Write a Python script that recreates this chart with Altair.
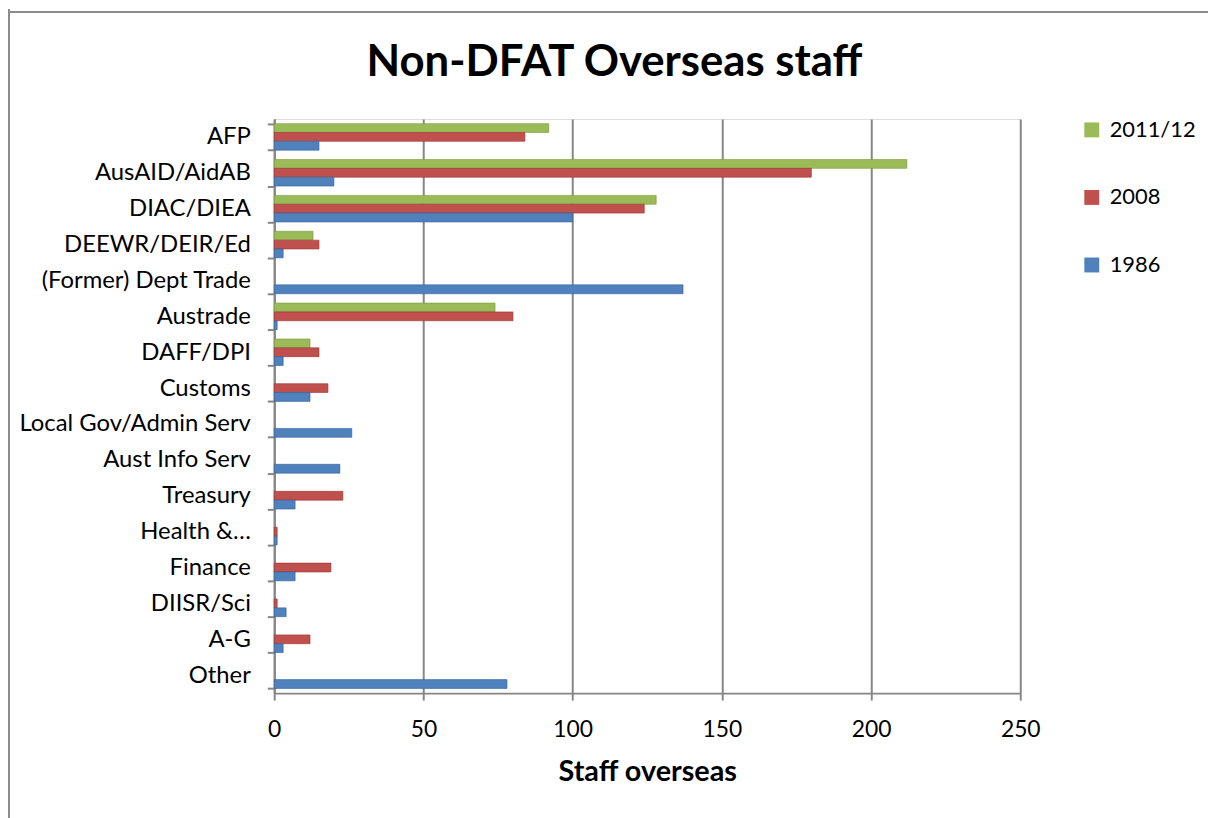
import altair as alt
import pandas as pd

categories = ["AFP", "AusAID/AidAB", "DIAC/DIEA", "DEEWR/DEIR/Ed", "(Former) Dept Trade",
              "Austrade", "DAFF/DPI", "Customs", "Local Gov/Admin Serv", "Aust Info Serv",
              "Treasury", "Health &…", "Finance", "DIISR/Sci", "A-G", "Other"]
series = ["2011/12", "2008", "1986"]
v2011 = [92, 212, 128, 13, 0, 74, 12, 0, 0, 0, 0, 0, 0, 0, 0, 0]
v2008 = [84, 180, 124, 15, 0, 80, 15, 18, 0, 0, 23, 1, 19, 1, 12, 0]
v1986 = [15, 20, 100, 3, 137, 1, 3, 12, 26, 22, 7, 1, 7, 4, 3, 78]
colors = ["#9BBB59", "#C0504D", "#4F81BD"]
edge_colors = ["#7a9a3a", "#9a3330", "#34609a"]
x_ticks = [0, 50, 100, 150, 200, 250]

rows = []
for s, vals in zip(series, [v2011, v2008, v1986]):
    for c, v in zip(categories, vals):
        rows.append({"Agency": c, "Series": s, "Staff": v})
df = pd.DataFrame(rows)

FONT = "Lato"
W, H = 751, 578
PAD_L, PAD_T = 268, 109

bars = alt.Chart(df).transform_filter("datum.Staff > 0").mark_bar(strokeWidth=0.6).encode(
    x=alt.X("Staff:Q", scale=alt.Scale(domain=[0, 250], nice=False),
            axis=alt.Axis(values=x_ticks, title="Staff overseas", grid=True,
                          gridColor="#868686", gridWidth=2, domainColor="#868686",
                          domainWidth=2, tickColor="#868686", tickWidth=2, tickSize=7,
                          labelFontSize=23, labelFont=FONT, labelColor="#000",
                          labelFlush=False, labelPadding=19, titleFontSize=29,
                          titleFont=FONT, titleFontWeight="bold", titleColor="#000",
                          titlePadding=16)),
    y=alt.Y("Agency:N", sort=categories,
            scale=alt.Scale(domain=categories, paddingInner=0.26, paddingOuter=0.13),
            axis=alt.Axis(title=None, tickBand="extent", domainColor="#868686",
                          domainWidth=2, tickColor="#868686", tickWidth=2, tickSize=7,
                          labelFontSize=24, labelFont=FONT, labelColor="#000",
                          labelPadding=17, labelLimit=400)),
    yOffset=alt.YOffset("Series:N", sort=series, scale=alt.Scale(domain=series)),
    color=alt.Color("Series:N", sort=series,
                    scale=alt.Scale(domain=series, range=colors),
                    legend=alt.Legend(title=None, orient="none", legendX=812, legendY=0,
                                      symbolType="square", symbolSize=225,
                                      symbolStrokeWidth=0, labelFontSize=22,
                                      labelFont=FONT, labelColor="#000",
                                      labelOffset=7, rowPadding=46)),
    stroke=alt.Stroke("Series:N", sort=series,
                      scale=alt.Scale(domain=series, range=edge_colors),
                      legend=None),
)

frame_left = alt.Chart(df).mark_rule(color="#8c8c8c", strokeWidth=1.5).encode(
    x=alt.value(-PAD_L + 1), y=alt.value(-PAD_T - 1), y2=alt.value(H + 200))
frame_top = alt.Chart(df).mark_rule(color="#8c8c8c", strokeWidth=1.5).encode(
    x=alt.value(-PAD_L), x2=alt.value(W + 300), y=alt.value(-PAD_T + 1))

chart = alt.layer(bars, frame_left, frame_top).properties(
    width=W, height=H,
    title=alt.TitleParams("Non-DFAT Overseas staff", font=FONT, fontSize=44,
                          fontWeight="bold", color="#000", anchor="middle",
                          frame="group", dx=-33, offset=-77),
    autosize=alt.AutoSizeParams(type="none"),
    padding={"left": PAD_L, "top": PAD_T, "right": 1208 - PAD_L - W, "bottom": 123},
).configure_view(stroke=None).configure(background="white")

chart.save("out.html", embed_options={"renderer": "svg", "actions": False})
